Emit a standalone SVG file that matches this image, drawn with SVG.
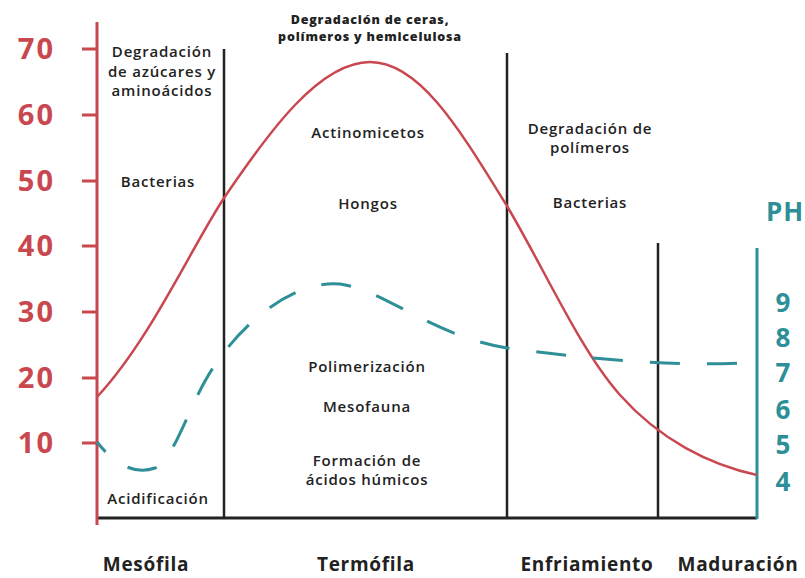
<svg xmlns="http://www.w3.org/2000/svg" width="805" height="578" viewBox="0 0 805 578">
<style>
.lbl{font-family:"Open Sans","Liberation Sans",sans-serif;font-weight:600;font-size:15px;letter-spacing:0.8px;fill:#222;text-anchor:middle}
.top{font-family:"Open Sans","Liberation Sans",sans-serif;font-weight:800;font-size:12.5px;letter-spacing:0.8px;fill:#222;text-anchor:middle}
.phase{font-family:"Open Sans","Liberation Sans",sans-serif;font-weight:700;font-size:19px;letter-spacing:0.7px;fill:#222;text-anchor:middle}
.rnum{font-family:"Open Sans","Liberation Sans",sans-serif;font-weight:700;font-size:29px;letter-spacing:2px;fill:#c9474f;text-anchor:end}
.tnum{font-family:"Open Sans","Liberation Sans",sans-serif;font-weight:700;font-size:26px;fill:#2e8f98;text-anchor:middle}
.div{stroke:#222;stroke-width:2.5;fill:none}
.tick{stroke:#c9474f;stroke-width:3}
</style>
<rect width="805" height="578" fill="#fff"/>
<g id="axes">
<line x1="97" y1="518" x2="757" y2="518" stroke="#222" stroke-width="3"/>
<line x1="97" y1="22" x2="97" y2="525" stroke="#c9474f" stroke-width="3"/>
<line class="tick" x1="82" y1="49" x2="97" y2="49"/>
<line class="tick" x1="82" y1="115" x2="97" y2="115"/>
<line class="tick" x1="82" y1="181" x2="97" y2="181"/>
<line class="tick" x1="82" y1="246" x2="97" y2="246"/>
<line class="tick" x1="82" y1="312" x2="97" y2="312"/>
<line class="tick" x1="82" y1="378" x2="97" y2="378"/>
<line class="tick" x1="82" y1="443" x2="97" y2="443"/>
<text class="rnum" x="55" y="59">70</text>
<text class="rnum" x="55" y="125">60</text>
<text class="rnum" x="55" y="191">50</text>
<text class="rnum" x="55" y="256">40</text>
<text class="rnum" x="55" y="322">30</text>
<text class="rnum" x="55" y="388">20</text>
<text class="rnum" x="55" y="453">10</text>
<line x1="757" y1="248" x2="757" y2="519" stroke="#2e8f98" stroke-width="3"/>
<text class="tnum" x="785" y="221" font-size="25" letter-spacing="1">PH</text>
<text class="tnum" x="783" y="312">9</text>
<text class="tnum" x="783" y="347">8</text>
<text class="tnum" x="783" y="382">7</text>
<text class="tnum" x="783" y="419">6</text>
<text class="tnum" x="783" y="454">5</text>
<text class="tnum" x="783" y="491">4</text>
</g>
<g id="dividers">
<line class="div" x1="224" y1="49" x2="224" y2="518"/>
<line class="div" x1="507" y1="53" x2="507" y2="518"/>
<line class="div" x1="658" y1="243" x2="658" y2="518"/>
</g>
<g id="curves">
<path d="M97,397 C150,340 190,250 224,198 C270,130 320,62 370,62 C420,62 460,130 507,206 C545,270 580,350 620,395 C660,440 710,465 757,475" fill="none" stroke="#c9474f" stroke-width="2.5"/>
<path d="M97,442 C115,465 135,475 155,468 C175,460 190,400 215,365 C245,320 295,280 340,284 C385,290 430,335 507,348 C580,358 680,368 757,362" fill="none" stroke="#2e8f98" stroke-width="3" stroke-dasharray="30 27" stroke-dashoffset="17"/>
</g>
<g id="mesofila">
<text class="lbl" x="162" y="57">Degradación</text>
<text class="lbl" x="162" y="77">de azúcares y</text>
<text class="lbl" x="162" y="96">aminoácidos</text>
<text class="lbl" x="158" y="187">Bacterias</text>
<text class="lbl" x="158" y="504">Acidificación</text>
<text class="phase" x="146" y="571">Mesófila</text>
</g>
<g id="termofila">
<text class="top" x="370" y="24">Degradación de ceras,</text>
<text class="top" x="370" y="41">polímeros y hemicelulosa</text>
<text class="lbl" x="368" y="138">Actinomicetos</text>
<text class="lbl" x="368" y="209">Hongos</text>
<text class="lbl" x="367" y="372">Polimerización</text>
<text class="lbl" x="367" y="412">Mesofauna</text>
<text class="lbl" x="367" y="466">Formación de</text>
<text class="lbl" x="367" y="485">ácidos húmicos</text>
<text class="phase" x="366" y="571">Termófila</text>
</g>
<g id="enfriamiento">
<text class="lbl" x="590" y="134">Degradación de</text>
<text class="lbl" x="590" y="153">polímeros</text>
<text class="lbl" x="590" y="208">Bacterias</text>
<text class="phase" x="587" y="571">Enfriamiento</text>
</g>
<g id="maduracion">
<text class="phase" x="738" y="571">Maduración</text>
</g>
</svg>
